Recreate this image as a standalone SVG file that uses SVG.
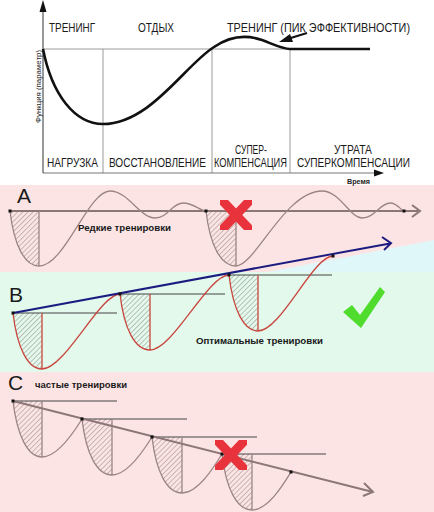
<svg xmlns="http://www.w3.org/2000/svg" width="434" height="512" viewBox="0 0 434 512">
<defs>
<style>
.t{font-family:"Liberation Sans",Arial,sans-serif;font-size:12px;fill:#1a1a1a;text-anchor:middle}
.b{font-family:"Liberation Sans",Arial,sans-serif;font-weight:bold;font-size:9.5px;fill:#1a1a1a}
.L{font-family:"Liberation Sans",Arial,sans-serif;font-size:21px;fill:#1a1a1a}
.box{stroke:#9a9a9a;stroke-width:1;fill:none}
.gc{stroke:#9a8484;stroke-width:1.3;fill:none}
.rc{stroke:#c9443c;stroke-width:1.3;fill:none}
.gl{stroke:#8c7676;stroke-width:2;fill:none}
.hl{stroke:#444;stroke-width:1;fill:none}
.dot{fill:#111}
.x{stroke:#e8323c;stroke-width:9;fill:none}
</style>
<pattern id="hatch" patternUnits="userSpaceOnUse" width="3.6" height="3.6" patternTransform="rotate(45)">
<line x1="0" y1="0" x2="0" y2="3.6" stroke="#7a6a6a" stroke-width="0.8"/>
</pattern>
<clipPath id="cxa"><rect x="220" y="200" width="32" height="30"/></clipPath>
<clipPath id="cxc"><rect x="215" y="440" width="32" height="30"/></clipPath>
</defs>

<!-- backgrounds -->
<rect x="0" y="0" width="434" height="512" fill="#ffffff"/>
<rect x="0" y="185" width="434" height="87" fill="#fde4e4"/>
<polygon points="268,272 434,240 434,272" fill="#e0f7fa"/>
<rect x="0" y="272" width="434" height="100" fill="#e2f9ec"/>
<rect x="0" y="372" width="434" height="140" fill="#fde4e4"/>

<!-- top chart -->
<g id="chart">
<line x1="43" y1="49" x2="290" y2="49" class="box"/>
<line x1="103" y1="49" x2="103" y2="173" class="box"/>
<line x1="212" y1="49" x2="212" y2="173" class="box"/>
<line x1="290" y1="49" x2="290" y2="173" class="box"/>
<line x1="43" y1="173" x2="376" y2="173" stroke="#777" stroke-width="1"/>
<polygon points="384,173 374,169.5 374,176.5" fill="#111"/>
<line x1="43" y1="173" x2="43" y2="9" stroke="#555" stroke-width="1.2"/>
<polygon points="43,0 39.5,12 46.5,12" fill="#111"/>
<path d="M43,49 C52,95 75,124 103,124 C150,124 185,65 214,47 C230,36 245,34 262,40 C275,45 283,49 290,49 L370,49" stroke="#111" stroke-width="2.6" fill="none"/>
<line x1="307" y1="33" x2="289" y2="38.5" stroke="#111" stroke-width="2"/>
<polygon points="279,42 290,34 293,42" fill="#111"/>
<text class="t" transform="translate(72,32) scale(0.82,1)" textLength="56.1" lengthAdjust="spacingAndGlyphs">ТРЕНИНГ</text>
<text class="t" transform="translate(156,32) scale(0.82,1)" textLength="43.9" lengthAdjust="spacingAndGlyphs">ОТДЫХ</text>
<text class="t" transform="translate(318.5,32) scale(0.82,1)" textLength="223.2" lengthAdjust="spacingAndGlyphs">ТРЕНИНГ (ПИК ЭФФЕКТИВНОСТИ)</text>
<text class="t" transform="translate(72.5,167) scale(0.82,1)" textLength="62.2" lengthAdjust="spacingAndGlyphs">НАГРУЗКА</text>
<text class="t" transform="translate(157.5,167) scale(0.82,1)" textLength="118.3" lengthAdjust="spacingAndGlyphs">ВОССТАНОВЛЕНИЕ</text>
<text class="t" transform="translate(251,154) scale(0.82,1)" textLength="39" lengthAdjust="spacingAndGlyphs">СУПЕР-</text>
<text class="t" transform="translate(250.5,167) scale(0.82,1)" textLength="89" lengthAdjust="spacingAndGlyphs">КОМПЕНСАЦИЯ</text>
<text class="t" transform="translate(353,154) scale(0.82,1)" textLength="46.3" lengthAdjust="spacingAndGlyphs">УТРАТА</text>
<text class="t" transform="translate(353.5,167) scale(0.82,1)" textLength="137.8" lengthAdjust="spacingAndGlyphs">СУПЕРКОМПЕНСАЦИИ</text>
<text x="358.5" y="184" text-anchor="middle" font-family="Liberation Sans,Arial,sans-serif" font-weight="bold" font-size="6.5" fill="#222" textLength="23" lengthAdjust="spacingAndGlyphs">Время</text>
<text transform="translate(40.5,86.5) rotate(-90)" text-anchor="middle" font-family="Liberation Sans,Arial,sans-serif" font-size="7.5" fill="#222" textLength="73" lengthAdjust="spacingAndGlyphs">Функция (параметр)</text>
</g>

<!-- A -->
<g id="panelA">
<text class="L" x="17" y="203">A</text>
<path d="M10,211 C14,246 25,266 39,266 L39,211 Z" fill="url(#hatch)"/>
<path d="M206,211 C210,246 221,266 236,266 L236,211 Z" fill="url(#hatch)"/>
<line x1="10" y1="211" x2="418" y2="211" class="gl"/>
<polyline points="412,205 420,211 412,217" class="gl"/>
<path d="M10,211 C14,246 25,266 39,266 C65,266 88,191 110,191 C128,191 140,218 155,218 C168,218 172,203 183,203 C194,203 200,211 206,211 C210,246 221,266 236,266 C255,266 285,191 322,191 C340,191 350,218 362,218 C375,218 380,203 390,203 C398,203 401,211 404,211" class="gc"/>
<line x1="39" y1="211" x2="39" y2="266" class="gc"/>
<line x1="236" y1="211" x2="236" y2="266" class="gc"/>
<rect x="8.5" y="209.5" width="3" height="3" class="dot"/>
<rect x="204.5" y="209.5" width="3" height="3" class="dot"/>
<rect x="402.5" y="209.5" width="3" height="3" class="dot"/>
<text class="b" x="124.5" y="231" text-anchor="middle" textLength="93" lengthAdjust="spacingAndGlyphs">Редкие тренировки</text>
<g clip-path="url(#cxa)">
<line x1="218" y1="196" x2="254" y2="234" class="x"/>
<line x1="254" y1="196" x2="218" y2="234" class="x"/>
</g>
</g>

<!-- B -->
<g id="panelB">
<text class="L" x="9" y="302">B</text>
<path d="M13,313 C17,348 28,369 42,369 L42,313 Z" fill="url(#hatch)"/>
<path d="M120,294 C124,329 135,350 150,350 L150,294 Z" fill="url(#hatch)"/>
<path d="M229,275 C233,310 244,331 258,331 L258,275 Z" fill="url(#hatch)"/>
<line x1="13" y1="313" x2="117" y2="313" class="hl"/>
<line x1="120" y1="294" x2="225" y2="294" class="hl"/>
<line x1="229" y1="275" x2="332" y2="275" class="hl"/>
<path d="M13,313 C17,348 28,369 42,369 C65,369 100,294 120,294 C124,329 135,350 150,350 C173,350 208,275 229,275 C233,310 244,331 258,331 C281,331 313,256 333,256" class="rc"/>
<line x1="42" y1="313" x2="42" y2="369" class="rc"/>
<line x1="150" y1="294" x2="150" y2="350" class="rc"/>
<line x1="258" y1="275" x2="258" y2="331" class="rc"/>
<line x1="13" y1="313" x2="390" y2="243.4" stroke="#1c1c80" stroke-width="2"/>
<polyline points="382,237 391,243.2 384,250" stroke="#1c1c80" stroke-width="2" fill="none"/>
<rect x="11.5" y="311.5" width="3" height="3" class="dot"/>
<rect x="118.5" y="292.5" width="3" height="3" class="dot"/>
<rect x="227.5" y="273.5" width="3" height="3" class="dot"/>
<rect x="331.5" y="254.5" width="3" height="3" class="dot"/>
<text class="b" x="259.5" y="344" text-anchor="middle" textLength="127" lengthAdjust="spacingAndGlyphs">Оптимальные тренировки</text>
<polygon points="343,312 352,305 360,315 380,287 385,292 361,328" fill="#4fdc2c"/>
</g>

<!-- C -->
<g id="panelC">
<text class="L" x="8" y="390" font-size="19">C</text>
<text class="b" x="35" y="388" textLength="92" lengthAdjust="spacingAndGlyphs">частые тренировки</text>
<path d="M13,401 C17,436 28,457 42,457 L42,401 Z" fill="url(#hatch)"/>
<path d="M82,419 C86,454 97,475 112,475 L112,419 Z" fill="url(#hatch)"/>
<path d="M152,437 C156,472 167,493 182,493 L182,437 Z" fill="url(#hatch)"/>
<path d="M222,454 C226,489 237,510 252,510 L252,454 Z" fill="url(#hatch)"/>
<line x1="13" y1="401" x2="117" y2="401" class="hl"/>
<line x1="82" y1="419" x2="187" y2="419" class="hl"/>
<line x1="152" y1="437" x2="257" y2="437" class="hl"/>
<line x1="222" y1="454" x2="326" y2="454" class="hl"/>
<path d="M13,401 C17,436 28,457 42,457 C58,457 74,432 82,419 C86,454 97,475 112,475 C128,475 144,450 152,437 C156,472 167,493 182,493 C198,493 214,467 222,454 C226,489 237,510 252,510 C268,510 283,485 291,472" class="gc"/>
<line x1="42" y1="401" x2="42" y2="457" class="gc"/>
<line x1="112" y1="419" x2="112" y2="475" class="gc"/>
<line x1="182" y1="437" x2="182" y2="493" class="gc"/>
<line x1="252" y1="454" x2="252" y2="510" class="gc"/>
<line x1="13" y1="401" x2="371" y2="491.5" class="gl"/>
<polyline points="364,483 373,492 363,496" class="gl"/>
<rect x="11.5" y="399.5" width="3" height="3" class="dot"/>
<rect x="80.5" y="417.5" width="3" height="3" class="dot"/>
<rect x="150.5" y="435.5" width="3" height="3" class="dot"/>
<rect x="220.5" y="452.5" width="3" height="3" class="dot"/>
<rect x="289.5" y="470.5" width="3" height="3" class="dot"/>
<g clip-path="url(#cxc)">
<line x1="213" y1="436" x2="249" y2="474" class="x"/>
<line x1="249" y1="436" x2="213" y2="474" class="x"/>
</g>
</g>
</svg>
